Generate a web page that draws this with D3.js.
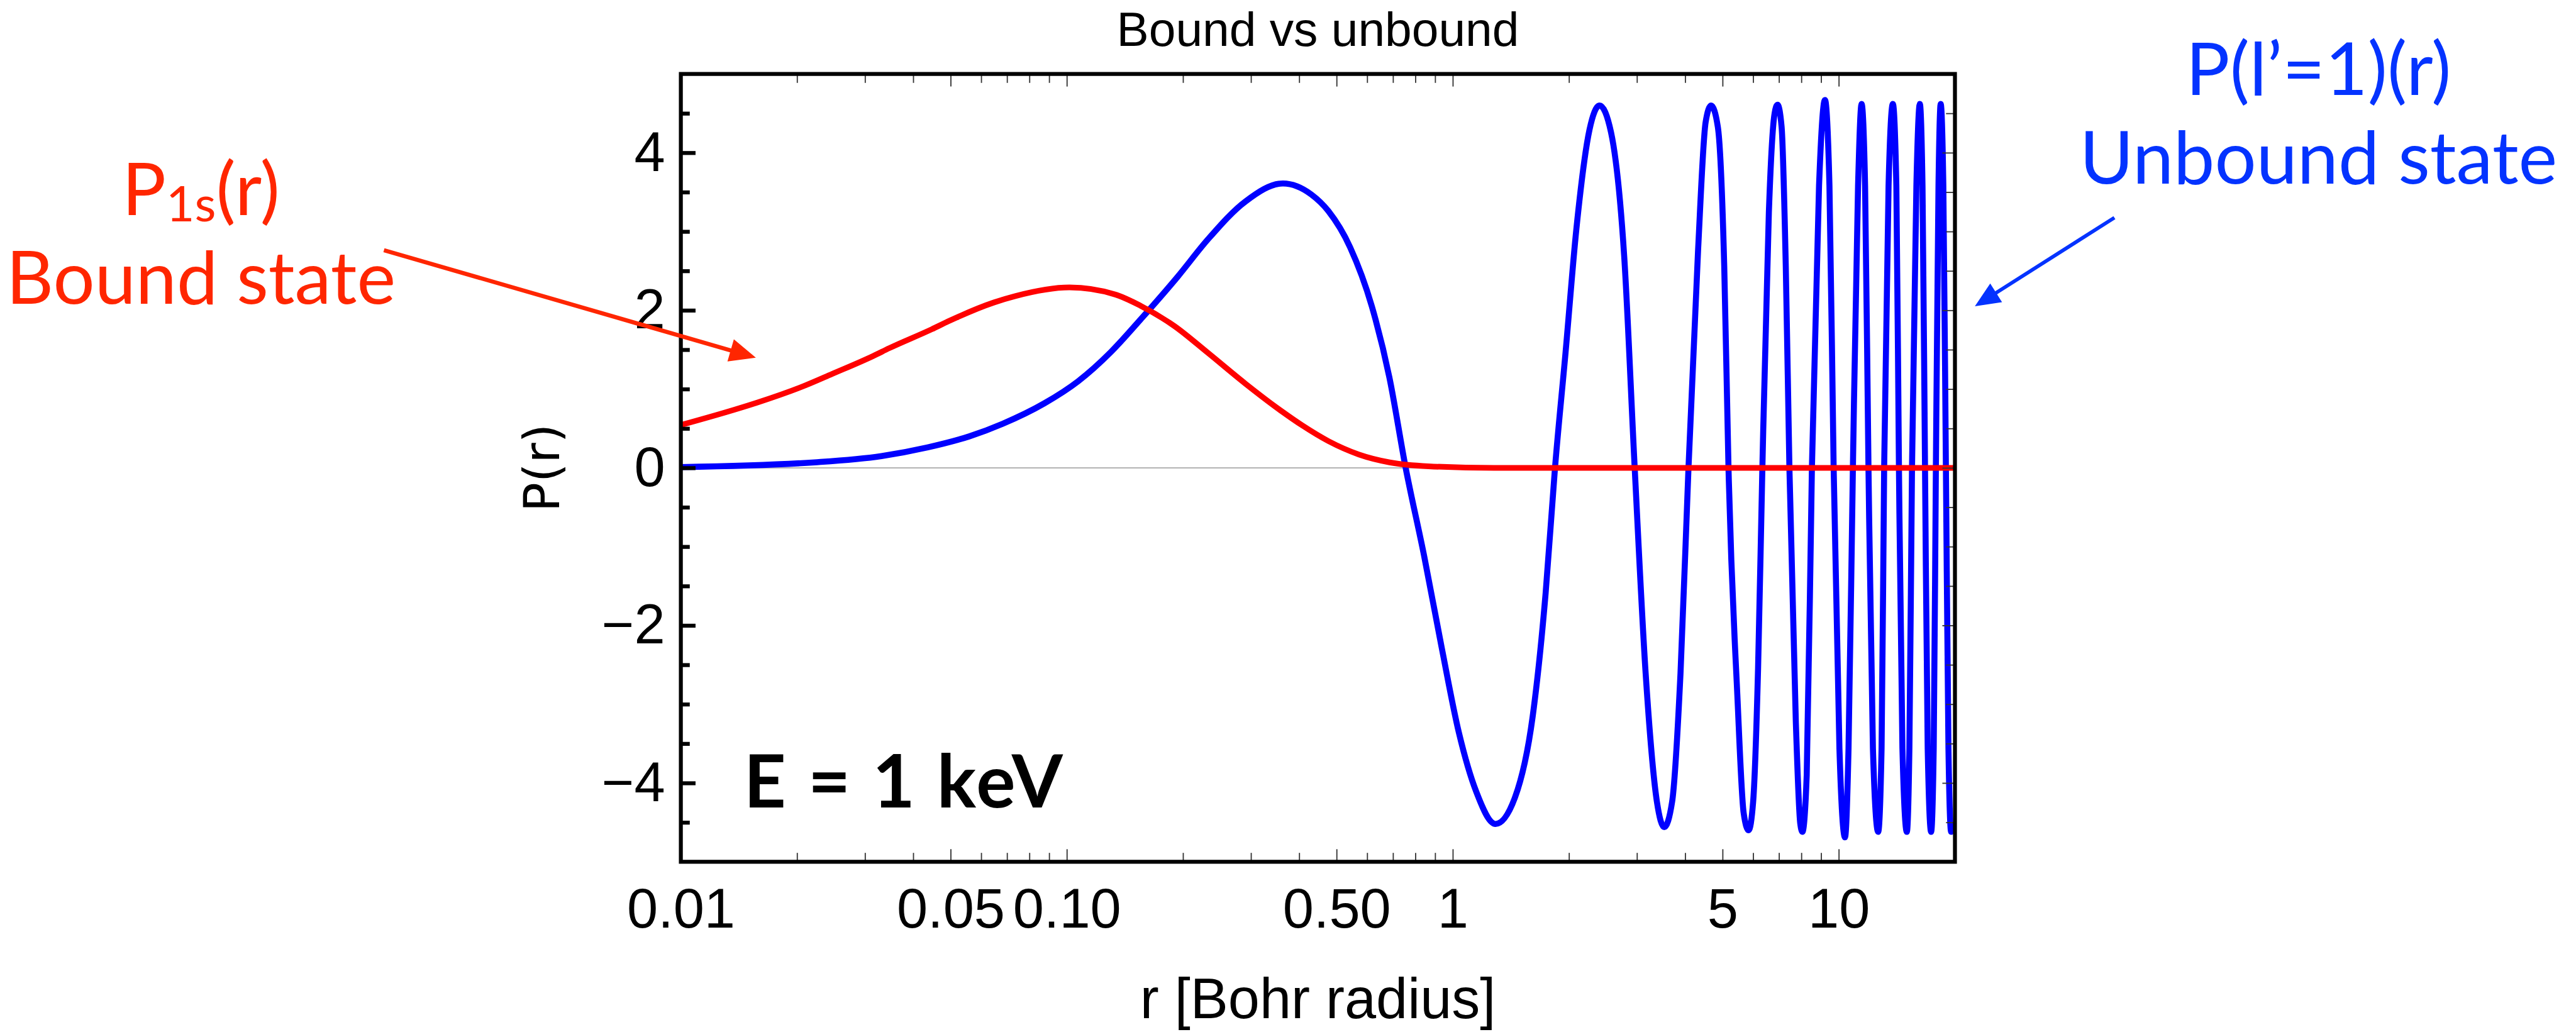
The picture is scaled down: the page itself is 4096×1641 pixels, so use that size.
<!DOCTYPE html>
<html>
<head>
<meta charset="utf-8">
<script src="https://cdn.jsdelivr.net/npm/d3@7"></script>
<style>
  html, body { margin: 0; padding: 0; background: #ffffff; overflow: hidden; }
</style>
</head>
<body>
<svg id="chart" width="4096" height="1641"></svg>
<script>
// Radial functions P(r), r in Bohr radii.
// Bound 1s state
const boundR = [0.01, 0.0138, 0.0158, 0.0211, 0.0246, 0.0315, 0.0347, 0.0447, 0.0493, 0.0648, 0.0735,
                0.1016, 0.1336, 0.155, 0.19, 0.232, 0.29, 0.36, 0.407, 0.476, 0.571, 0.686, 0.865, 1.28, 20];
const boundP = [0.544, 0.74, 0.83, 1.05, 1.19, 1.42, 1.52, 1.76, 1.86, 2.10, 2.18,
                2.29, 2.20, 2.06, 1.80, 1.46, 1.07, 0.72, 0.54, 0.34, 0.17, 0.07, 0.02, 0.0, 0.0];

// Unbound l'=1 state at E = 1 keV
const unboundR = [0.01, 0.0222, 0.0331, 0.0436, 0.0559, 0.0682, 0.0875, 0.107, 0.130, 0.155, 0.194, 0.232, 0.290,
                  0.363, 0.43, 0.476, 0.542, 0.617, 0.685, 0.755, 0.843, 0.935, 1.037, 1.15, 1.29, 1.45, 1.61, 1.74,
                  1.84, 1.96, 2.09, 2.26, 2.40, 2.57, 2.78, 2.96, 3.16, 3.38, 3.53, 3.70, 3.89, 4.08, 4.32, 4.52,
                  4.67, 4.86, 5.05, 5.18, 5.46, 5.67, 5.84, 6.00, 6.18, 6.34, 6.59, 6.82, 6.94, 7.11, 7.29, 7.45,
                  7.74, 7.95, 8.05, 8.26, 8.52, 8.89, 9.21, 9.46, 9.70, 10.04, 10.38, 10.60, 10.88, 11.22, 11.46,
                  11.70, 11.94, 12.26, 12.65, 12.91, 13.11, 13.46, 13.81, 14.10, 14.32, 14.62, 15.01, 15.24, 15.48,
                  15.89, 16.22, 16.48, 16.73, 17.00, 17.35, 17.62, 17.85, 18.13, 18.37, 18.66, 18.95, 19.24, 19.55, 19.95];
const unboundP = [0.01, 0.07, 0.15, 0.26, 0.40, 0.56, 0.82, 1.10, 1.47, 1.88, 2.43, 2.90, 3.38,
                  3.61, 3.47, 3.26, 2.80, 2.05, 1.15, 0.0, -1.12, -2.27, -3.36, -4.11, -4.52, -4.18, -3.16, -1.59,
                  0.0, 1.47, 3.03, 4.29, 4.60, 4.26, 2.69, 0.0, -2.61, -4.24, -4.56, -4.24, -2.61, 0.0, 2.76, 4.39,
                  4.60, 4.33, 2.56, 0.0, -2.88, -4.38, -4.60, -4.24, -2.54, 0.0, 3.24, 4.50, 4.61, 4.33, 2.56, 0.0,
                  -3.22, -4.52, -4.62, -3.90, 0.0, 3.58, 4.67, 3.58, 0.0, -3.56, -4.69, -3.56, 0.0, 3.58, 4.62,
                  3.58, 0.0, -3.56, -4.62, -3.56, 0.0, 3.58, 4.62, 3.58, 0.0, -3.56, -4.62, -3.56, 0.0,
                  3.58, 4.62, 3.58, 0.0, -3.56, -4.62, -3.56, 0.0, 3.58, 4.62, 3.58, 0.0, -3.56, -4.62, -4.5];

// Axis ticks and labels
const xDomain = [0.01, 20];
const yDomain = [-5, 5];
const xMajorTicks = [0.01, 0.05, 0.1, 0.5, 1, 5, 10];
const xTickLabels = ["0.01", "0.05", "0.10", "0.50", "1", "5", "10"];
const xMinorTicks = [0.02, 0.03, 0.04, 0.06, 0.07, 0.08, 0.09,
                     0.2, 0.3, 0.4, 0.6, 0.7, 0.8, 0.9,
                     2, 3, 4, 6, 7, 8, 9];
const yMajorTicks = [-4, -2, 0, 2, 4];
const yTickLabels = ["\u22124", "\u22122", "0", "2", "4"];
const yMinorTicks = [-4.5, -3.5, -3, -2.5, -1.5, -1, -0.5, 0.5, 1, 1.5, 2.5, 3, 3.5, 4.5];

const titleText = "Bound vs unbound";
const xAxisTitle = "r [Bohr radius]";
const yAxisTitle = "P(r)";
const energyNote = "E = 1 keV";

// ---- layout (drawn in a 4911 x 1968 design space, scaled to the window) ----
const designW = 4911, designH = 1968;
const k = 4096 / designW;
const plot = { left: 1298, right: 3727, top: 141, bottom: 1643 };
const frameWidth = 7.5;
const thinTick = 2.2;
const tickFont = "'Liberation Sans', Arial, sans-serif";
const noteFont = "Lato, 'Open Sans', sans-serif";
const redInk = "#ff2600";
const blueInk = "#0433ff";

const svg = d3.select("#chart");
svg.append("rect").attr("width", 4096).attr("height", 1641).attr("fill", "#ffffff");
const root = svg.append("g").attr("transform", `scale(${k})`);

const x = d3.scaleLog().domain(xDomain).range([plot.left, plot.right]);
const y = d3.scaleLinear().domain(yDomain).range([plot.bottom, plot.top]);

// zero line
root.append("line")
  .attr("x1", x(xDomain[0])).attr("x2", x(xDomain[1]))
  .attr("y1", y(0)).attr("y2", y(0))
  .attr("stroke", "#9a9a9a").attr("stroke-width", 2);

// curves
const clip = root.append("clipPath").attr("id", "plotClip");
clip.append("rect")
  .attr("x", plot.left).attr("y", plot.top)
  .attr("width", plot.right - plot.left).attr("height", plot.bottom - plot.top);

const line = d3.line()
  .x(d => x(d[0]))
  .y(d => y(d[1]))
  .curve(d3.curveMonotoneX);

const curves = root.append("g").attr("clip-path", "url(#plotClip)");
curves.append("path")
  .datum(unboundR.map((r, i) => [r, unboundP[i]]))
  .attr("d", line)
  .attr("fill", "none").attr("stroke", "#0000ff")
  .attr("stroke-width", 11.5).attr("stroke-linejoin", "round");
curves.append("path")
  .datum(boundR.map((r, i) => [r, boundP[i]]))
  .attr("d", line)
  .attr("fill", "none").attr("stroke", "#ff0000")
  .attr("stroke-width", 10.8).attr("stroke-linejoin", "round");

// ---- ticks via d3 axes ----
function styleAxis(g, width, color) {
  g.select(".domain").remove();
  g.selectAll(".tick line").attr("stroke", color).attr("stroke-width", width);
  g.selectAll(".tick text")
    .attr("font-family", tickFont).attr("font-size", 106).attr("fill", "#000");
}

// bottom
root.append("g").attr("transform", `translate(0,${plot.bottom})`)
  .call(d3.axisBottom(x).tickValues(xMajorTicks).tickSize(-24).tickPadding(50)
        .tickFormat((d, i) => xTickLabels[i]))
  .call(g => styleAxis(g, thinTick, "#333"));
root.append("g").attr("transform", `translate(0,${plot.bottom})`)
  .call(d3.axisBottom(x).tickValues(xMinorTicks).tickSize(-17).tickFormat(""))
  .call(g => styleAxis(g, thinTick, "#333"));
// top
root.append("g").attr("transform", `translate(0,${plot.top})`)
  .call(d3.axisTop(x).tickValues(xMajorTicks).tickSize(-24).tickFormat(""))
  .call(g => styleAxis(g, thinTick, "#333"));
root.append("g").attr("transform", `translate(0,${plot.top})`)
  .call(d3.axisTop(x).tickValues(xMinorTicks).tickSize(-17).tickFormat(""))
  .call(g => styleAxis(g, thinTick, "#333"));
// left (heavy)
root.append("g").attr("transform", `translate(${plot.left},0)`)
  .call(d3.axisLeft(y).tickValues(yMajorTicks).tickSize(-28).tickPadding(30)
        .tickFormat((d, i) => yTickLabels[i]))
  .call(g => styleAxis(g, frameWidth, "#000"));
root.append("g").attr("transform", `translate(${plot.left},0)`)
  .call(d3.axisLeft(y).tickValues(yMinorTicks).tickSize(-17).tickFormat(""))
  .call(g => styleAxis(g, frameWidth, "#000"));
// right
root.append("g").attr("transform", `translate(${plot.right},0)`)
  .call(d3.axisRight(y).tickValues(yMajorTicks).tickSize(-24).tickFormat(""))
  .call(g => styleAxis(g, thinTick, "#333"));
root.append("g").attr("transform", `translate(${plot.right},0)`)
  .call(d3.axisRight(y).tickValues(yMinorTicks).tickSize(-17).tickFormat(""))
  .call(g => styleAxis(g, thinTick, "#333"));

// frame
root.append("rect")
  .attr("x", plot.left).attr("y", plot.top)
  .attr("width", plot.right - plot.left).attr("height", plot.bottom - plot.top)
  .attr("fill", "none").attr("stroke", "#000").attr("stroke-width", frameWidth);

// titles
const midX = (plot.left + plot.right) / 2;
root.append("text").text(titleText)
  .attr("x", midX).attr("y", 87).attr("text-anchor", "middle")
  .attr("font-family", tickFont).attr("font-size", 92);
root.append("text").text(xAxisTitle)
  .attr("x", midX).attr("y", 1941).attr("text-anchor", "middle")
  .attr("font-family", tickFont).attr("font-size", 108);
root.append("text").text(yAxisTitle)
  .attr("transform", `translate(1066,${y(0)}) rotate(-90)`)
  .attr("text-anchor", "middle")
  .attr("font-family", "'DejaVu Sans', sans-serif").attr("font-size", 94);

// energy note inside the frame
root.append("text").text(energyNote)
  .attr("x", 1418).attr("y", 1539)
  .attr("textLength", 608).attr("lengthAdjust", "spacing")
  .attr("font-family", noteFont).attr("font-weight", 700).attr("font-size", 140)
  .attr("fill", "#000");

// ---- annotations ----
const boundLabel = root.append("text")
  .attr("x", 383).attr("y", 410).attr("text-anchor", "middle")
  .attr("font-family", noteFont).attr("font-size", 140).attr("fill", redInk);
boundLabel.append("tspan").text("P");
boundLabel.append("tspan").text("1s").attr("font-size", 94).attr("dy", 12);
boundLabel.append("tspan").text("(r)").attr("dy", -12);
root.append("text").text("Bound state")
  .attr("x", 383).attr("y", 579).attr("text-anchor", "middle")
  .attr("font-family", noteFont).attr("font-size", 140).attr("fill", redInk);

root.append("text").text("P(l\u2019=1)(r)")
  .attr("x", 4420).attr("y", 181).attr("text-anchor", "middle")
  .attr("font-family", noteFont).attr("font-size", 140).attr("fill", blueInk);
root.append("text").text("Unbound state")
  .attr("x", 4420).attr("y", 350).attr("text-anchor", "middle")
  .attr("font-family", noteFont).attr("font-size", 140).attr("fill", blueInk);

// arrows: tail, tip, head length, head half-width
function arrow(x0, y0, x1, y1, color, width, headLen, headHalf) {
  const dx = x1 - x0, dy = y1 - y0, len = Math.hypot(dx, dy);
  const ux = dx / len, uy = dy / len;
  const bx = x1 - ux * headLen, by = y1 - uy * headLen;
  root.append("line")
    .attr("x1", x0).attr("y1", y0).attr("x2", bx + ux * 4).attr("y2", by + uy * 4)
    .attr("stroke", color).attr("stroke-width", width);
  root.append("path")
    .attr("d", `M${x1},${y1}L${bx - uy * headHalf},${by + ux * headHalf}L${bx + uy * headHalf},${by - ux * headHalf}Z`)
    .attr("fill", color);
}
arrow(732, 477, 1441, 682, redInk, 8, 50, 22);
arrow(4031, 415, 3765, 584, blueInk, 7, 48, 21);
</script>
</body>
</html>
